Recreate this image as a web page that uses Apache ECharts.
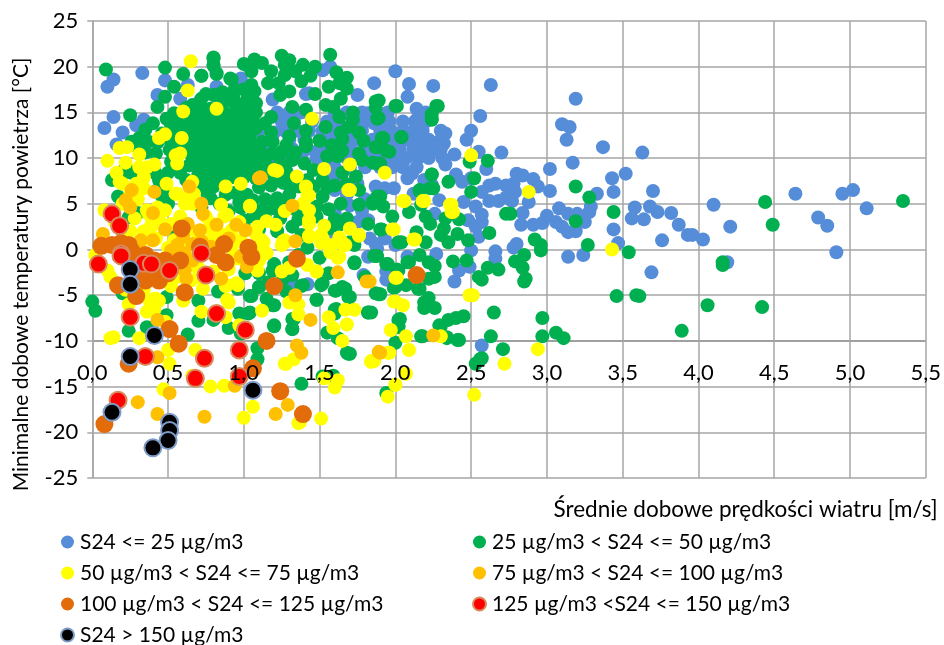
<!DOCTYPE html>
<html><head><meta charset="utf-8"><style>html,body{margin:0;padding:0;background:#fff}#c{width:944px;height:645px}</style>
<script src="https://cdn.jsdelivr.net/npm/echarts@6/dist/echarts.min.js"></script></head><body><div id="c"></div>
<script>
const xTicks=['0,0','0,5','1,0','1,5','2,0','2,5','3,0','3,5','4,0','4,5','5,0','5,5'];
const seriesNames=['S24 <= 25 µg/m3','25 µg/m3 < S24 <= 50 µg/m3','50 µg/m3 < S24 <= 75 µg/m3','75 µg/m3 < S24 <= 100 µg/m3','100 µg/m3 < S24 <= 125 µg/m3','125 µg/m3 <S24 <= 150 µg/m3','S24 > 150 µg/m3'];
const blue=[[2,19.5],[1.86,18.2],[2.09,18.1],[2.25,17.9],[2.63,18],[2.08,16.7],[3.19,16.5],[2.14,15.4],[2.2,15],[2.14,14.2],[2.2,14],[2.56,14.6],[3.1,13.7],[3.15,13.4],[3.13,12],[2.5,13],[2.47,12],[2.33,12.7],[2.32,11.6],[2.25,10.9],[2.39,10.4],[2.55,10.7],[2.7,10.6],[3.37,11.2],[3.63,10.6],[3.17,9.5],[2.33,9.3],[3.02,8.8],[2.6,8.8],[3.43,7.8],[3.52,8.3],[2.8,8.3],[2.84,8.1],[2.91,7.7],[2.94,6.9],[3.02,6.4],[3.44,6.3],[3.7,6.4],[3.33,6.1],[2.66,7.2],[2.62,7],[2.73,7],[2.78,7.2],[2.57,6.3],[2.62,5.3],[2.68,5.3],[2.73,5.7],[2.77,5.3],[2.79,6.3],[2.88,5.2],[3.08,4.5],[3.14,3.9],[3.2,3.9],[3.29,4.7],[3.28,4.1],[2.84,4],[3,3.7],[2.97,2.9],[2.91,2.7],[2.83,2.7],[3.06,3],[3.1,2.5],[3.14,1.9],[3.19,2],[3.25,3],[3.58,4.6],[3.68,4.7],[3.73,4.1],[3.82,4],[3.56,3.4],[3.64,3.3],[3.87,2.7],[3.93,1.6],[3.44,2.2],[3.76,1],[3.47,.7],[3.14,-.8],[3.24,-.6],[3.69,-2.5],[2.8,.6],[2.78,.2],[2.66,-.2],[2.66,-1],[2.5,-.1],[2.49,-1.9],[2.42,-2.3],[2.39,-3.5],[2.27,-.5],[2.08,-.8],[1.88,.1],[4.1,4.9],[4.21,2.5],[3.96,1.6],[4.03,1.1],[4.64,6.1],[4.95,6.1],[5.02,6.5],[5.11,4.5],[4.79,3.5],[4.85,2.6],[4.91,-.3],[4.19,-1.4],[.14,18.6],[.1,17.8],[.33,19.3],[.48,18.5],[.43,16.9],[.58,16.5],[.14,14.5],[.08,13.3],[.2,12.8],[.16,11.5],[.29,13.6],[.34,14.2],[.82,17.8],[1.19,16.4],[1.43,17.1],[1.57,20],[1.52,19.6],[1.75,16.9],[1.82,14.9],[1.86,13.8],[.98,18.7],[.63,18],[1.41,17],[1.22,15],[1.3,15],[1.38,15],[1.6,15],[1.68,15],[1.78,15],[1.85,15],[1.95,15],[1.25,14],[1.33,14],[1.45,14],[1.55,14],[1.62,14],[1.72,14],[1.8,14],[1.88,14],[1.96,14],[2.05,14],[2.13,14],[1.27,13],[1.35,13],[1.43,13],[1.52,13],[1.6,13],[1.7,13],[1.78,13],[1.9,13],[1.97,13],[2.05,13],[2.12,13],[2.18,13],[2.3,13],[1.3,12],[1.4,12],[1.5,12],[1.58,12],[1.67,12],[1.75,12],[1.85,12],[1.93,12],[2,12],[2.08,12],[2.15,12],[2.22,12],[2.3,12],[1.32,11],[1.42,11],[1.5,11],[1.6,11],[1.7,11],[1.8,11],[1.88,11],[1.95,11],[2.03,11],[2.12,11],[2.2,11],[2.3,11],[1.28,10],[1.38,10],[1.48,10],[1.58,10],[1.68,10],[1.78,10],[1.85,10],[1.92,10],[2,10],[2.07,10],[2.15,10],[2.22,10],[2.31,10],[1.22,9],[1.5,9],[1.6,9],[1.7,9],[1.8,9],[1.9,9],[1.98,9],[2.05,9],[2.14,9],[2.08,7.8],[2.11,8.3],[2.19,7.6],[2.24,7.1],[1.87,6.9],[1.93,6.7],[1.99,6.7],[2.12,6.1],[2.29,5.4],[2.26,3.9],[2.45,5.2],[2.53,4.7],[2.57,3.8],[2.48,3.2],[2.53,2.5],[2.57,3],[2.55,1.4],[1.93,1.2],[2,.5],[2.4,8.2],[2.44,7.4],[2.5,7.8],[1.58,8],[1.65,7.5],[1.75,7.2],[1.6,6.5],[1.68,6],[1.8,5.5],[1.7,4.8],[1.78,4.2],[1.6,4],[1.82,3.2],[1.75,3],[1.19,9.2],[1.32,4.5],[1.83,1.2],[1.82,-.8],[1.87,.6],[1.79,-2.8],[1.94,-2.4],[1.94,-3.3],[1.42,-3.8],[1.32,-3.7],[2.57,-10.5],[1.58,1],[1.1,13],[1.13,11.5],[1.2,12.8]];
const green=[[4.44,5.2],[4.49,2.7],[5.35,5.3],[4.16,-1.4],[4.16,-1.7],[4.06,-6.1],[4.42,-6.3],[3.89,-8.9],[3.61,-5.1],[1.87,16.2],[2,15.7],[2.28,15.7],[2.24,14.8],[2.24,14.2],[1.88,14.3],[2.04,12.3],[1.91,12.2],[1.87,11.2],[1.94,10.8],[2.49,9.6],[2.61,9.7],[1.85,9.5],[1.9,9.4],[2.24,8.2],[2.35,7.4],[2.52,7.8],[2.23,6.7],[2.16,6.4],[2.5,6.3],[3.19,6.9],[3.28,5.7],[1.9,5.8],[1.85,5],[1.92,4.7],[2.09,4.1],[1.98,3.6],[2.17,4.9],[2.2,3.6],[2.23,2.8],[2.33,3.4],[2.42,3.3],[2.32,2.3],[2.3,1.6],[2.35,.8],[2.41,1.7],[2.48,1],[2.62,1.8],[2.73,3.9],[2.76,3.9],[3.19,3.1],[3.44,4.1],[2.92,1.1],[2.96,.5],[2.96,-.1],[3.27,.5],[3.54,-.3],[3.46,-5.1],[3.59,-5],[1.91,2.2],[2.02,.8],[2.04,.8],[2.14,1.9],[2.2,.8],[1.88,-.7],[1.95,-1.6],[2.09,-1.4],[2.16,-.6],[2.22,-1.4],[2.26,-1.8],[2.26,-3],[2.22,-3.2],[2.07,-3.9],[2.02,-2.3],[2,-4.1],[2.16,-4.3],[2.38,-1.3],[2.47,-1.2],[2.61,-2],[2.68,-2.2],[2.55,-3],[2.57,-3.3],[2.85,-.6],[2.79,-1.3],[2.84,-2],[2.86,-3.2],[2.85,-3.5],[1.9,-4.9],[2.22,-5.3],[2.19,-6.4],[2.2,-6.1],[2.26,-6.4],[1.84,-6.9],[2.03,-7.6],[2.02,-8.4],[2.3,-8.4],[2.35,-7.7],[2.4,-7.5],[2.45,-7.3],[2.65,-6.9],[2.97,-7.5],[2.97,-9.5],[3.06,-9.1],[3.11,-9.7],[2.63,-9.5],[2.42,-9.9],[2.34,-9.7],[2.18,-9.5],[2,-10.2],[2.71,-10.9],[2.57,-11.9],[2.53,-12.5],
[1.57,21.3],[.8,20.9],[1.25,21.2],[1.3,20.7],[1.07,20.8],[1.12,20.4],[1,20.3],[.8,20.1],[.82,19.2],[.72,19],[1.27,20.2],[1.39,20.2],[1.47,20],[1.34,19.5],[1.18,19.5],[1.05,19.5],[.91,18.7],[1.61,19.4],[1.68,18.8],[1.27,19.1],[1.44,19],[1.16,18.2],[1.23,18.2],[1.38,18.4],[1.56,17.8],[1.63,18.2],[1.68,17.6],[1.3,17.3],[1.24,16.9],[1.47,17],[1.64,16.5],[1.05,18],[1,17.5],[1.07,17.3],[.8,16.9],[.93,16.7],[1.02,16.4],[1.08,16],[1.32,15.6],[1.54,15.8],[1.59,15.6],[1.41,15.3],[1.89,16.3],[1.87,15.5],[2.01,15.7],[1.72,15],[1.89,14.4],[2.27,15.7],[2.24,14.3],[1.18,14.5],[1.14,13.8],[1.33,13.8],[1.54,13.4],[1.41,13],[1.3,12.4],[1.18,12.8],[1.63,14.5],[1.72,14.2],[1.69,13.4],[1.76,12.8],[1.64,12.8],[1.65,12.1],[1.79,11.9],[1.5,11.9],[1.41,11.8],[1.41,11.3],[1.92,12.2],[1.88,11.2],[1.96,10.7],[2.04,12.3],[1.58,11.4],[1.65,10.8],[1.76,10.5],[1.55,10.2],[1.62,10.2],[1.25,10.7],[1.19,10.5],[1.19,11.8],[1.12,11.8],[1.32,9.8],[1.4,9.4],[1.46,8.7],[1.78,9.8],[1.88,9.4],[1.65,8.4],[1.52,7.6],[1.74,8],[1.76,6.5],[2.24,8.2],[2.25,6.7],[2.16,6.5],[1.88,5.8],[1.52,5.8],[1.46,6.9],
[.09,19.7],[.48,19.9],[.6,19.2],[.72,19],[.8,21],[.8,20.2],[.82,19.3],[.54,17.8],[.48,16.7],[.43,15.6],[.25,14.7],[.92,18.6],[.81,16.9],[.71,16.2],[.66,15.8],[.54,14.9],[.49,14.3],[.35,13.1],[.31,12.2],[.26,11.8],[.4,13.8],[.37,11.8],[.51,10.9],[.13,7.6],[.17,5.8],[.42,10.5],[.42,8.3],[.44,7.6],
[.75,17],[.86,17.2],[.94,17.5],[.72,16.5],[.86,16],[.94,16],[1,15.8],[1.04,15.4],[.62,15.5],[.7,15.3],[.78,15.4],[.86,15.2],[.94,15],[1.02,15],[1.08,15],[.58,14.5],[.66,14.5],[.74,14.4],[.82,14.2],[.9,14.3],[.98,14.1],[1.06,14.2],[.52,13.5],[.6,13.6],[.68,13.5],[.76,13.3],[.84,13.4],[.92,13.2],[1,13.3],[1.08,13.3],[.46,12.7],[.55,12.6],[.64,12.5],[.72,12.5],[.8,12.4],[.88,12.3],[.96,12.4],[1.04,12.5],[.43,11.7],[.52,11.7],[.6,11.6],[.68,11.5],[.76,11.4],[.84,11.4],[.92,11.5],[1,11.5],[1.07,11.4],[.56,10.8],[.64,10.6],[.72,10.5],[.8,10.4],[.88,10.5],[.96,10.6],[1.04,10.4],[1.12,10.5],[.66,9.7],[.74,9.6],[.82,9.5],[.9,9.6],[.98,9.5],[1.06,9.5],[1.14,9.6],[.72,8.8],[.8,8.7],[.88,8.6],[.96,8.7],[1.04,8.7],[1.12,8.5],[.76,7.9],[.84,7.8],[.92,7.9],[1,7.9],[1.08,7.8],[.72,7],[.8,6.9],[.88,6],[.94,6.2],[1.02,6],[1.1,6.8],[1.18,7],[1.26,7.3],[.78,5.6],[1.06,5.4],[1.14,5.5],[1.22,5.6],[1.3,6],[1.36,6.9],[1.12,4.3],[1.2,4.5],[1.28,5.2],[.98,4.6],[.9,4.2],[1.14,3.5],[1.06,3.6],[1.0,3],[1.24,3.4],[1.36,3.3],[1.32,2.5],[1.22,2],[1.1,2.2],[1.48,4.7],[1.56,4.4],[1.6,3.3],[1.48,3.6],[1.56,2.3],[1.62,2.6],[1.64,5],[1.76,4.9],[1.85,5.2],[1.68,3.4],[1.82,2.8],[1.9,2.2],[1.7,.8],[1.73,.5],[1.73,-1.5],[1.87,-.7],[1.94,-1.6],[2.01,-2.2],[2.08,-1.4],[1.99,-4.2],[2.15,-4.3],[1.89,-4.9],[2.19,-5.8],[1.8,-3],[1.56,-2.6],[1.51,-3.9],[1.61,-4.5],[1.7,-5.2],[1.67,-4.3],[1.48,-5.5],[1.82,-6.9],[1.61,-6.5],[1.6,-7],[2.02,-7.7],[2.02,-8.5],[1.55,-9.1],[1.32,-8.7],[1.33,-7.6],[1.2,-8.3],[1.32,-2.8],[1.38,-4],[1.19,-6.1],[1.04,-5.1],[1.1,-4.1],[1.03,-7],[1.09,-10.8],[1.69,-11.4],[2.29,-8.3],[2.17,-9.5],[2.34,-9.6],[2.41,-9.9],[1.36,-.6],[1.3,-1.4],[1.42,.2],[1.2,-1.6],[1.1,-2.6],[1.38,1.6],[1.16,-3.6],[1.26,-3.2],[1.5,-.9],
[0,-5.7],[.02,-6.7],[.2,-4.8],[.49,-5.2],[.49,-7.2],[.36,-8.5],[.63,-9.3],[.7,-5.6],[.7,-7.8],[.8,-7.7],[.9,-8.6],[.97,-7],[1.04,-6.9],[1.05,-5.1],[1.1,-4.1],[1.15,-5.4],[1.2,-6.1],[1.2,-8.4],[1.32,-8.7],[1.32,-7.6],[1.38,-14.7],[1.09,-12],[1.48,-5.5],[1.52,-3.7],[1.39,-3.9],[1.28,-4.6],[1.73,-1.4],[1.6,-4.5],[1.65,-4.1],[1.69,-5.2],[1.6,-6.6],[1.62,-9.7],[1.68,-11.3],[1.7,-11.4],[1.82,-6.9],[1.52,-13.9],[1.59,-13.8],[.83,-4.6],[.96,-4.3],[1.19,-2.3],[1.01,-2.6],[1.87,-4.8],[1.86,-.7],[1.94,-15.7],[2.56,-12],[1,3.2],[.24,3.5],[.3,4],[.5,5],[.58,3.2],[.55,1.8],[.3,-3.5],[.24,-8.9],[.98,-9.2],[.64,9.2],[.7,8.2],[.62,7.6],[.58,8.4],[.5,8.4],[.52,9.6],[.48,6.8],[.76,6],[.84,5],[.72,4.6],[.35,10.6],[.3,11.2],[.22,9],[.2,8.2],[.26,8.4],[.46,5.8],[.42,6.4],[.97,5.2],[1.36,4.1],[1.42,7.6],[1.32,7.9],[1.16,9],[1.24,9.4],[1.1,8.1],[1.2,8],[1.28,8.6],[1.3,7],[1.34,10.6],[1.28,11.4],[1.6,7],[1.68,7.1],[1.55,6.8]];
const yellow=[[1.97,-8.8],[2.07,-9.5],[2.09,-11],[1.96,-11.3],[1.86,-12.2],[2.3,-9.5],[2.51,-5],[1.99,-5.7],[2.05,-6.1],[2.94,-10.9],[2.72,-12.5],[2.07,-13.6],[2,-14.8],[3.43,0],[2.5,10.3],[1.93,8.4],[2.06,5.3],[2.19,5.3],[2.37,4.9],[2.38,4.1],[2.88,6.3],[1.99,2.2],[2.13,1.1],[2.01,-3.1],[.82,15.4],[1.45,14.3],[1.53,8.8],[1.7,9.3],[1.2,8.7],[1.22,8.6],[1.35,8],[1.41,6.9],[1.43,5.9],[1.7,6.5],[.88,6.9],[.98,7.2],[.65,20.6],[.63,17.4],[.6,15.1],[.48,12.6],[.44,12.2],[.59,12.2],[.23,11.2],[.18,11.1],[.1,9.7],[.31,10.4],[.22,9.5],[.41,9.3],[.58,10.5],[.55,10.3],[.56,9.4],[.16,8.4],[.31,9],[.36,9],[.34,7.9],[.18,7.4],[.29,7.2],[.49,7.2],[.34,6.7],[.55,6.1],[.66,7.4],[.62,5.6],[.66,5],[.85,4.9],[1.04,4.7],[1.27,4.2],[1.43,4.3],[1.43,2.8],[1.15,3.1],[1.21,2.7],[.87,3.6],[1.53,2.6],[1.7,2.3],[1.76,1.6],[1.43,1.4],[1.52,1.2],[1.27,1],[1.12,1],[1.08,1.7],[1.64,1],[1.67,.5],[.36,4.3],[.48,4.3],[.43,4.6],[.08,4.3],[.39,2.8],[.54,1],[.79,2.1],[.75,3.6],[.2,7.2],[.37,3.9],[.61,5],[.67,6.1],[.56,6.1],[.58,3.6],[.89,3.8],[.92,2.1],[.39,2.5],[.36,1.2],[.4,1],[.61,.7],[.02,-.6],[.12,-3],[.41,-5.4],[.44,-5.6],[.73,-4.3],[.88,-4],[.96,-3.9],[1.09,-2.3],[1.09,2.5],[1.13,.8],[1.03,-.3],[.89,-5.5],[.52,-4],[.65,-3.4],[.14,-9.6],[.12,-9.7],[.31,-9.7],[.5,-11],[.51,-12.5],[.68,-11],[.47,-15.3],[.66,-13.8],[.78,-15],[.87,-14.9],[1,-18.4],[1.06,-17.2],[1.36,-19],[1.51,-18.5],[1.27,-12.5],[1.33,-12],[1.53,-14.1],[1.62,-14.3],[1.6,-15.1],[.72,-6.8],[.9,-5.8],[1.12,-6.7],[1.36,-6],[1.3,-5.8],[1.36,-7.1],[1.56,-7.4],[1.59,-8.6],[1.68,-8.2],[1.67,-6.6],[1.73,-6.6],[1.65,-10],[1.84,-12.2],[.42,-5.4],[.38,-5.7],[.36,-6.8],[.41,-6.6],[.48,-7.9],[.97,-8.3],[.88,-7.4],[.89,-3.9],[.95,-3.7],[1.25,-2.4],[1.48,-2.4],[1.15,-.4],[1.27,.8],[1.63,-.8],[1.04,4.8],[1.41,6.8],[1.42,5.9],[1.39,5],[1.43,3.2],[1.43,1.5],[1.51,1.6],[1.51,.7],[1.69,6.5],[2.05,5.3],[2.18,5.3],[2.36,4.9],[2.37,4.1],[1.98,2.2],[2.12,1.1],[1.76,1.5],[1.63,1.3],[1.66,.5],[1.58,.5],[1.57,-.3],[1.62,-.9],[1.48,-2.4],[1.42,-1.7],[1.3,-2],[1.26,.9],[1.25,.5],[1.14,-.4],[.97,3],[2,-3.1],[2.49,-5],[2,-5.7],[1.84,-12.3],[1.95,-11.3],[1.95,-16.1],[2.52,-15.9],[1.37,-18.9],[2,-14.8],[1.28,-12.5],[.64,2.2],[.7,1.4],[.78,1],[.86,.6],[.92,.2],[.98,1],[.3,.2],[.5,.2],[.5,-1],[.68,-1.8],[.8,-2.4],[.7,-3],[.9,-2.2],[.25,2],[.28,3.4],[.15,3],[.2,5],[.3,5.5],[.42,1.2],[.1,-2.3],[.22,-4.4],[.6,-5.6],[.8,-.4],[.98,-1],[1.06,.2],[.25,6],[.2,2],[.34,2],[.44,3.3],[.52,2.8],[.78,2.9],[.86,1.6],[.94,-1],[1.1,-1.2],[.56,-3],[.7,-2],[.24,-6],[.34,-4.4]];
const amber=[[2.25,-9.4],[1.9,-11.3],[1.83,-3.5],[1.11,7.9],[.22,5.4],[.26,6.5],[.25,4.6],[.41,6.3],[.4,4],[.64,6.9],[.72,5],[.73,3.9],[.71,2.1],[.63,2.8],[.82,2.7],[.95,2.7],[1.01,2.1],[.48,2.2],[.07,1.7],[.32,1],[.4,1],[.52,-.1],[.56,.5],[.61,-.4],[.61,-2.3],[1.1,7.8],[1.02,-1.9],[.85,-3.2],[.43,-7.7],[.43,-11.8],[.3,-16.7],[.51,-15.7],[.43,-18],[.74,-18.3],[1.21,-18],[1.29,-17],[1.35,-10.5],[1.38,-11.3],[.94,-14.9],[1.34,-5],[1.44,-7.7],[1.62,-2.5],[1.81,-3.5],[1.89,-11.2],[1.34,.9],[1.32,4.8],[.72,.9],[.6,1.4],[.66,.6],[.78,.3],[.9,1.2],[.56,-1.8],[.66,-1.2],[.62,-3.2],[.98,-.8]];
const orange=[[.59,2.3],[.06,.4],[.13,.5],[.19,.7],[.24,.5],[.26,-.2],[.35,-.6],[.41,-1.2],[.48,-1.2],[.58,-1.2],[.87,.6],[1.03,.2],[1.05,-.8],[.88,-1.4],[.82,-.6],[.71,.3],[.17,-3.9],[.29,-5.1],[.61,-4.7],[.35,-3.4],[.39,-3],[.44,-3.4],[.19,-.4],[.08,-19.1],[.24,-12.5],[.51,-8.7],[.57,-10.3],[1.15,-10],[1.06,-13],[1.24,-15.5],[1.39,-18],[1.2,-4],[1.35,-1],[2.14,-2.8],[.28,-1.6],[.32,-2.4],[.42,-2.2],[.5,-2.6]];
const red=[[.13,3.9],[.18,2.6],[.04,-1.6],[.19,-.5],[.19,-.7],[.34,-1.5],[.39,-1.6],[.51,-2.3],[.72,-.4],[.75,-2.8],[.25,-7.4],[.82,-7],[1.01,-8.8],[.97,-11],[.74,-11.9],[.68,-14.1],[.35,-11.7],[.17,-16.5],[.97,-13.9]];
const black=[[.25,-2.2],[.25,-3.8],[.41,-9.4],[.25,-11.7],[.13,-17.8],[1.06,-15.4],[.51,-18.9],[.51,-19.8],[.5,-20.9],[.4,-21.7]];
const seriesData=[blue,green,yellow,amber,orange,red,black];
const colors=['#568dd8','#00b050','#ffff00','#ffc000','#e36c0a','#ff0000','#000000'];
const sizes=[14,14,14,14,18,17,17];
const borders=[null,null,null,null,null,'#d98a5c','#7f9cc8'];
const font='Lato, Carlito, sans-serif';
const grey='#a6a6a6';
const legendBase={orient:'vertical',top:530,height:140,padding:0,icon:'circle',itemWidth:13,itemHeight:13,itemGap:7,selectedMode:false,textStyle:{fontFamily:font,fontSize:21,color:'#000',lineHeight:24,padding:[0,0,0,1]}};
const chart=echarts.init(document.getElementById('c'),null,{renderer:'canvas'});
chart.setOption({
 animation:false,
 grid:{left:92.3,right:15,top:21,height:457,containLabel:false},
 legend:[
  Object.assign({},legendBase,{left:60,data:[seriesNames[0],seriesNames[2],seriesNames[4],seriesNames[6]]}),
  Object.assign({},legendBase,{left:472,data:[seriesNames[1],seriesNames[3],seriesNames[5]]})
 ],
 xAxis:[
  {type:'value',min:0,max:5.5,interval:.5,position:'bottom',
   name:'Średnie dobowe prędkości wiatru [m/s]',nameLocation:'end',nameGap:12,
   nameTextStyle:{fontFamily:font,fontSize:22.5,color:'#000',align:'right',verticalAlign:'top',padding:[20,0,0,0]},
   axisLine:{show:false,onZero:false},axisTick:{show:false},axisLabel:{show:false},
   splitLine:{show:true,lineStyle:{color:grey,width:1.5}}},
  {type:'value',min:0,max:5.5,interval:.5,position:'bottom',z:20,
   axisLine:{show:false,onZero:false},axisTick:{show:false},splitLine:{show:false},
   axisLabel:{show:true,margin:-116,fontFamily:font,fontSize:22,color:'#000',
    formatter:v=>xTicks[Math.round(v*2)],hideOverlap:false,showMinLabel:true,showMaxLabel:true}}
 ],
 yAxis:{type:'value',min:-25,max:25,interval:5,
  name:'Minimalne dobowe temperatury powietrza [°C]',nameLocation:'middle',nameGap:61,nameRotate:90,
  nameTextStyle:{fontFamily:font,fontSize:21,color:'#000',padding:[0,50,0,0]},
  axisLine:{show:true,onZero:false,lineStyle:{color:grey,width:1.5}},
  axisTick:{show:true,length:5,lineStyle:{color:grey,width:1.5}},
  axisLabel:{margin:14,fontFamily:font,fontSize:22,color:'#000'},
  splitLine:{show:true,lineStyle:{width:1.5,color:[grey,grey,grey,'#808080',grey,grey,grey,grey,grey,grey,grey]}}},
 series:seriesData.map((d,i)=>({
  name:seriesNames[i],type:'scatter',data:d,symbol:'circle',symbolSize:sizes[i],z:2+i,silent:true,
  itemStyle:{color:colors[i],opacity:1,borderColor:borders[i]||colors[i],borderWidth:borders[i]?2:0}}))
});
</script></body></html>
